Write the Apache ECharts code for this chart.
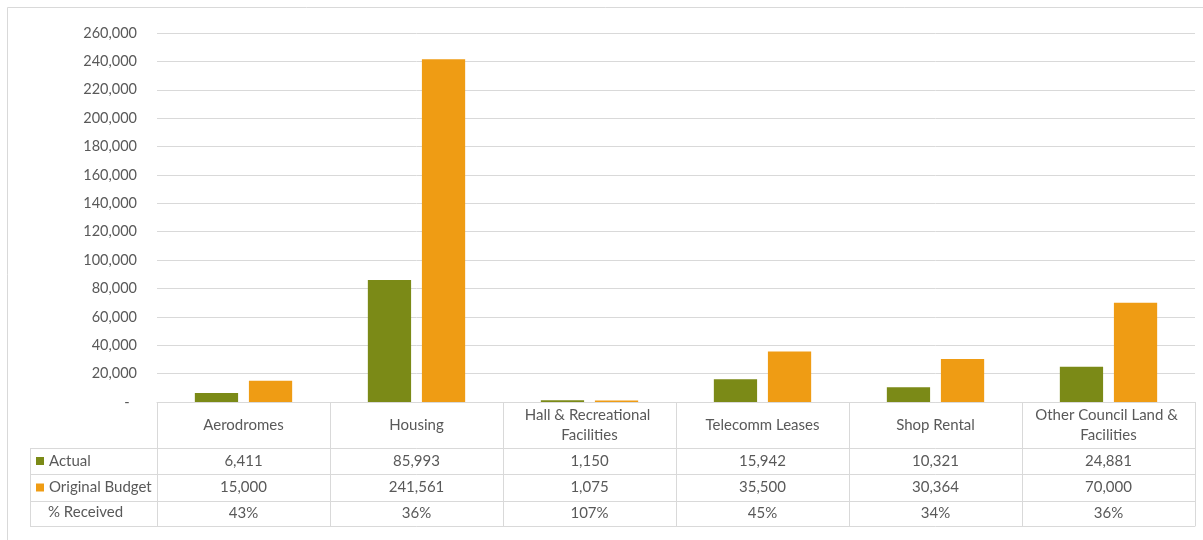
<!DOCTYPE html>
<html>
<head>
<meta charset="utf-8">
<title>Revenue by Property Type</title>
<script src="https://cdn.jsdelivr.net/npm/echarts@6/dist/echarts.min.js"></script>
<style>
  html, body { margin: 0; padding: 0; background: #ffffff; }
  #chart { width: 1203px; height: 540px; }
</style>
</head>
<body>
<div id="chart"></div>
<script>
// Property revenue: actual receipts against the original budget
const categories = ['Aerodromes', 'Housing', 'Hall & Recreational Facilities', 'Telecomm Leases', 'Shop Rental', 'Other Council Land & Facilities'];
const actual = [6411, 85993, 1150, 15942, 10321, 24881];
const originalBudget = [15000, 241561, 1075, 35500, 30364, 70000];
const percentReceived = ['43%', '36%', '107%', '45%', '34%', '36%'];
const seriesNames = ['Actual', 'Original Budget'];
const rowLabelPercent = '% Received';

const TEXT = '#595959';
const LINE = '#d9d9d9';
const FONT = 'Lato, "Open Sans", sans-serif';
const FS = 15;

const fmt = v => v.toLocaleString('en-US');

const chart = echarts.init(document.getElementById('chart'));

// One bottom axis per table row; each draws its row's top border, cell dividers and text
function tableAxis(offset, rowHeight, labels, showLabels) {
  return {
    type: 'category',
    data: categories,
    position: 'bottom',
    offset: offset,
    gridIndex: 0,
    axisLine: { show: true, lineStyle: { color: LINE, width: 1 } },
    axisTick: { show: rowHeight > 0, alignWithLabel: false, interval: 0, length: rowHeight, lineStyle: { color: LINE } },
    axisLabel: {
      show: showLabels,
      interval: 0,
      margin: rowHeight / 2,
      verticalAlign: 'middle',
      color: TEXT,
      fontFamily: FONT,
      fontSize: FS,
      formatter: (v, i) => labels[i]
    },
    splitLine: { show: false }
  };
}

const option = {
  animation: false,
  backgroundColor: '#ffffff',
  grid: { left: 157, right: 8, top: 33, bottom: 138, containLabel: false },
  legend: {
    orient: 'vertical',
    left: 36,
    top: 453,
    icon: 'rect',
    itemWidth: 8,
    itemHeight: 8,
    itemGap: 10.5,
    padding: 0,
    data: seriesNames,
    textStyle: { color: TEXT, fontFamily: FONT, fontSize: FS, lineHeight: 16 }
  },
  xAxis: [
    {
      type: 'category',
      data: categories,
      position: 'bottom',
      boundaryGap: true,
      axisLine: { show: true, lineStyle: { color: LINE, width: 1 } },
      axisTick: { show: true, alignWithLabel: false, interval: 0, length: 46, lineStyle: { color: LINE } },
      axisLabel: {
        interval: 0,
        margin: 23,
        verticalAlign: 'middle',
        width: 162,
        overflow: 'break',
        lineHeight: 20,
        color: TEXT,
        fontFamily: FONT,
        fontSize: FS
      },
      splitLine: { show: false }
    },
    tableAxis(46, 26, actual.map(fmt), true),
    tableAxis(72, 27, originalBudget.map(fmt), true),
    tableAxis(99, 25, percentReceived, true),
    tableAxis(124, 0, categories, false)
  ],
  yAxis: {
    type: 'value',
    min: 0,
    max: 260000,
    interval: 20000,
    axisLine: { show: false },
    axisTick: { show: false },
    splitLine: { show: true, lineStyle: { color: LINE, width: 1 } },
    axisLabel: {
      margin: 20,
      color: TEXT,
      fontFamily: FONT,
      fontSize: 14.5,
      formatter: v => (v === 0 ? '-  ' : fmt(v))
    }
  },
  series: [
    {
      name: seriesNames[0],
      type: 'bar',
      xAxisIndex: 0,
      data: actual,
      barWidth: '25%',
      barGap: '25%',
      itemStyle: { color: '#7b8a17' }
    },
    {
      name: seriesNames[1],
      type: 'bar',
      xAxisIndex: 0,
      data: originalBudget,
      barWidth: '25%',
      barGap: '25%',
      itemStyle: { color: '#ef9c14' }
    }
  ],
  graphic: [
    // chart frame
    { type: 'rect', silent: true, shape: { x: 7.5, y: 7.5, width: 1200, height: 540 },
      style: { fill: null, stroke: LINE, lineWidth: 1 } },
    // row-label column of the data table
    { type: 'line', silent: true, shape: { x1: 30.5, y1: 448, x2: 30.5, y2: 526.5 }, style: { stroke: LINE, lineWidth: 1 } },
    { type: 'line', silent: true, shape: { x1: 30, y1: 448.5, x2: 157, y2: 448.5 }, style: { stroke: LINE, lineWidth: 1 } },
    { type: 'line', silent: true, shape: { x1: 30, y1: 474.5, x2: 157, y2: 474.5 }, style: { stroke: LINE, lineWidth: 1 } },
    { type: 'line', silent: true, shape: { x1: 30, y1: 501.5, x2: 157, y2: 501.5 }, style: { stroke: LINE, lineWidth: 1 } },
    { type: 'line', silent: true, shape: { x1: 30, y1: 526.5, x2: 157, y2: 526.5 }, style: { stroke: LINE, lineWidth: 1 } },
    { type: 'text', silent: true, left: 48, top: 505,
      style: { text: rowLabelPercent, fill: TEXT, font: FS + 'px ' + FONT } }
  ]
};

chart.setOption(option);
</script>
</body>
</html>
